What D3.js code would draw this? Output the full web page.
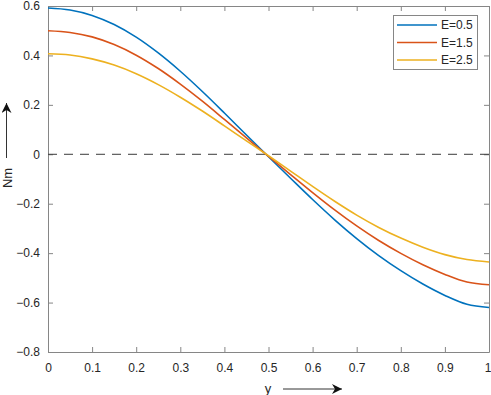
<!DOCTYPE html>
<html>
<head>
<meta charset="utf-8">
<script src="https://cdn.jsdelivr.net/npm/d3@7"></script>
<style>
    body { margin: 0; background: #fff; }
    svg text { font-family: "Liberation Sans", Arial, sans-serif; fill: #262626; }
</style>
</head>
<body>
<div id="chart"></div>
<script>
// values
const xValues = [0, 0.05, 0.1, 0.15, 0.2, 0.25, 0.3, 0.35, 0.4, 0.45, 0.5,
                 0.55, 0.6, 0.65, 0.7, 0.75, 0.8, 0.85, 0.9, 0.95, 1];
const nmE05 = [0.592, 0.584, 0.562, 0.525, 0.474, 0.410, 0.336, 0.254, 0.167, 0.078, -0.010,
               -0.097, -0.183, -0.265, -0.341, -0.410, -0.471, -0.525, -0.571, -0.607, -0.620];
const nmE15 = [0.500, 0.493, 0.475, 0.444, 0.401, 0.347, 0.284, 0.215, 0.141, 0.066, -0.008,
               -0.082, -0.155, -0.225, -0.290, -0.349, -0.401, -0.447, -0.486, -0.517, -0.528];
const nmE25 = [0.407, 0.402, 0.386, 0.361, 0.326, 0.282, 0.231, 0.175, 0.115, 0.054, -0.006,
               -0.068, -0.130, -0.190, -0.246, -0.296, -0.339, -0.376, -0.406, -0.426, -0.436];
const seriesNames = ['E=0.5', 'E=1.5', 'E=2.5'];
const seriesColors = ['#0072BD', '#D95319', '#EDB120'];
const xTicks = [0, 0.1, 0.2, 0.3, 0.4, 0.5, 0.6, 0.7, 0.8, 0.9, 1];
const yTicks = [-0.8, -0.6, -0.4, -0.2, 0, 0.2, 0.4, 0.6];

const W = 491, H = 395;
const plot = { left: 48, right: 489, top: 6, bottom: 352 };
const axisColor = '#868686';

const svg = d3.select('#chart').append('svg')
    .attr('width', W)
    .attr('height', H);

const x = d3.scaleLinear().domain([0, 1]).range([plot.left, plot.right]);
const y = d3.scaleLinear().domain([-0.8, 0.6]).range([plot.bottom, plot.top]);

const fmt = d => d === 0 ? '0' : (d === 1 ? '1' : d3.format('.1f')(d));

// axes with inward ticks (matlab style)
const xAxis = svg.append('g')
    .attr('transform', `translate(0,${plot.bottom})`)
    .call(d3.axisBottom(x).tickValues(xTicks).tickFormat(fmt).tickSizeInner(-5).tickSizeOuter(0).tickPadding(11));
const yAxis = svg.append('g')
    .attr('transform', `translate(${plot.left},0)`)
    .call(d3.axisLeft(y).tickValues(yTicks).tickFormat(fmt).tickSizeInner(-5).tickSizeOuter(0).tickPadding(8));
const xTop = svg.append('g')
    .attr('transform', `translate(0,${plot.top})`)
    .call(d3.axisTop(x).tickValues(xTicks).tickFormat('').tickSizeInner(-5).tickSizeOuter(0));
const yRight = svg.append('g')
    .attr('transform', `translate(${plot.right},0)`)
    .call(d3.axisRight(y).tickValues(yTicks).tickFormat('').tickSizeInner(-5).tickSizeOuter(0));

[xAxis, yAxis, xTop, yRight].forEach(g => {
    g.selectAll('path, line').attr('stroke', axisColor).attr('stroke-width', 1);
    g.selectAll('text').attr('font-size', 12).style('fill', '#262626');
});
// last x label sits right at the edge, keep it inside the page
xAxis.selectAll('.tick text').filter(d => d === 1)
    .attr('text-anchor', 'end')
    .attr('dx', 2);

// zero line
svg.append('line')
    .attr('x1', x(0)).attr('x2', x(1))
    .attr('y1', y(0)).attr('y2', y(0))
    .attr('stroke', '#3a3a3a')
    .attr('stroke-width', 1)
    .attr('stroke-dasharray', '9,7');

// curves
const allSeries = [nmE05, nmE15, nmE25];
const line = d3.line()
    .x((d, i) => x(xValues[i]))
    .y(d => y(d))
    .curve(d3.curveCatmullRom);

allSeries.forEach((s, k) => {
    svg.append('path')
        .datum(s)
        .attr('fill', 'none')
        .attr('stroke', seriesColors[k])
        .attr('stroke-width', 1.6)
        .attr('d', line);
});

// legend
const legend = svg.append('g');
legend.append('rect')
    .attr('x', 393.5).attr('y', 15.5)
    .attr('width', 84).attr('height', 54)
    .attr('fill', '#fff')
    .attr('stroke', axisColor);
seriesNames.forEach((name, k) => {
    const ly = 25 + k * 17.5;
    legend.append('line')
        .attr('x1', 397).attr('x2', 437)
        .attr('y1', ly).attr('y2', ly)
        .attr('stroke', seriesColors[k])
        .attr('stroke-width', 1.6);
    legend.append('text')
        .attr('x', 441).attr('y', ly)
        .attr('dy', '0.35em')
        .attr('font-size', 12)
        .text(name);
});

// axis labels with arrows
const defs = svg.append('defs');
defs.append('marker')
    .attr('id', 'head')
    .attr('viewBox', '0 0 10 10')
    .attr('refX', 10).attr('refY', 5)
    .attr('markerWidth', 10).attr('markerHeight', 10)
    .attr('markerUnits', 'userSpaceOnUse')
    .attr('orient', 'auto')
    .append('path')
    .attr('d', 'M0,0 L10,5 L0,10 L3,5 Z')
    .attr('fill', '#111');

svg.append('text')
    .attr('x', 268).attr('y', 388)
    .attr('dy', '0.35em')
    .attr('text-anchor', 'middle')
    .attr('font-size', 13)
    .text('y');
svg.append('line')
    .attr('x1', 283).attr('x2', 342)
    .attr('y1', 389).attr('y2', 389)
    .attr('stroke', '#333')
    .attr('stroke-width', 1)
    .attr('marker-end', 'url(#head)');

svg.append('text')
    .attr('transform', 'translate(7,178) rotate(-90)')
    .attr('dy', '0.35em')
    .attr('text-anchor', 'middle')
    .attr('font-size', 13)
    .text('Nm');
svg.append('line')
    .attr('x1', 6.5).attr('x2', 6.5)
    .attr('y1', 158).attr('y2', 103)
    .attr('stroke', '#333')
    .attr('stroke-width', 1)
    .attr('marker-end', 'url(#head)');
</script>
</body>
</html>
